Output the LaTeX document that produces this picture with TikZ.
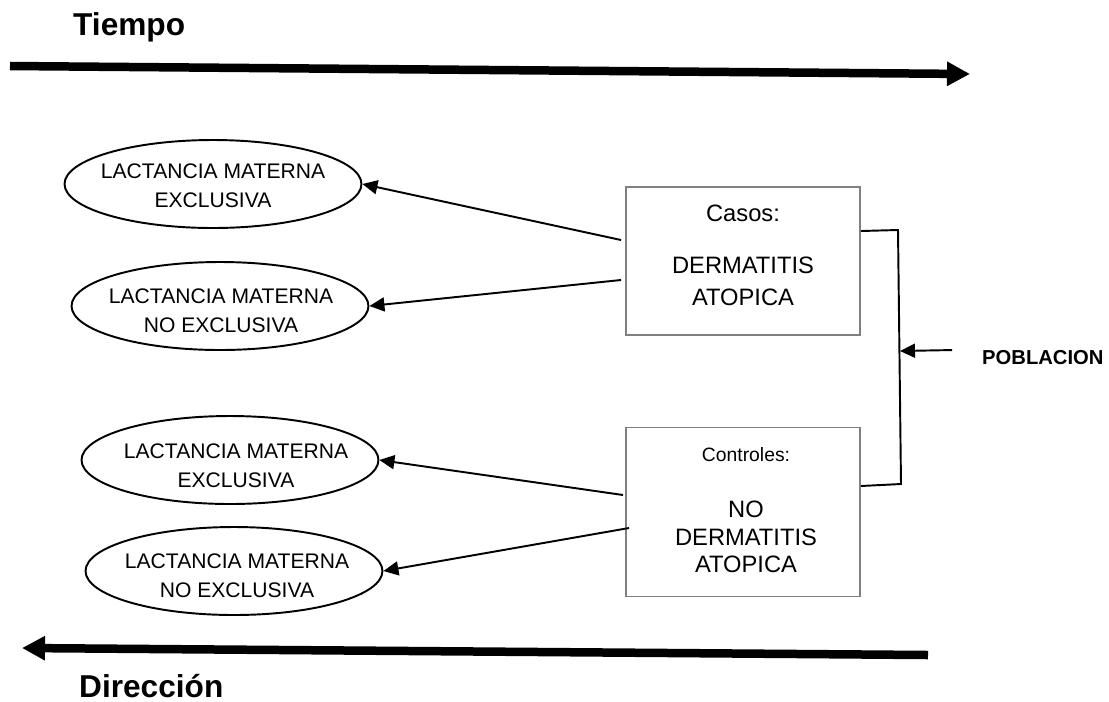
\documentclass[tikz,border=0pt]{standalone}
\usepackage{fontspec}
\setmainfont{Liberation Sans}
\usetikzlibrary{arrows.meta,shapes.geometric}

\begin{document}
\begin{tikzpicture}[x=0.02cm,y=-0.02cm,
  lm node/.style={ellipse,draw,line width=1.1pt,minimum width=5.94cm,minimum height=1.76cm,inner sep=0pt},
  lm text/.style={align=center,font=\fontsize{12}{16.5}\selectfont},
  group node/.style={rectangle,draw=black!50,line width=1.1pt,minimum width=4.68cm,inner sep=0pt},
  group text/.style={align=center,font=\fontsize{13.5}{18.2}\selectfont},
  thin arrow/.style={line width=1.1pt,-{Triangle[length=0.3cm,width=0.28cm]}},
  thick arrow/.style={line width=0.17cm,-{Triangle[length=0.46cm,width=0.46cm]}},
  title text/.style={font=\fontsize{18}{21}\selectfont\bfseries,anchor=base west}]

  \useasboundingbox (0,0) rectangle (1109,701);

  % time direction
  \node[title text] (tiempo) at (67,35) {Tiempo};
  \node[title text] (direccion) at (73,697) {Dirección};
  \coordinate (t0) at (10,66);
  \coordinate (t1) at (970,74);
  \coordinate (d0) at (928,655);
  \coordinate (d1) at (22,648);
  \path[] (t0) [thick arrow] edge node [] {} (t1);
  \path[] (d0) [thick arrow] edge node [] {} (d1);

  % exposures
  \node[lm node] (e1) at (213,184) {};
  \node[lm node] (e2) at (220,306) {};
  \node[lm node] (e3) at (230,460) {};
  \node[lm node] (e4) at (234,571) {};
  \node[lm text] (l1) at (213,186) {LACTANCIA MATERNA\\EXCLUSIVA};
  \node[lm text] (l2) at (221,311) {LACTANCIA MATERNA\\NO EXCLUSIVA};
  \node[lm text] (l3) at (236,466) {LACTANCIA MATERNA\\EXCLUSIVA};
  \node[lm text] (l4) at (237,576) {LACTANCIA MATERNA\\NO EXCLUSIVA};

  % cases and controls
  \node[group node,minimum height=2.96cm] (b1) at (743,261) {};
  \node[group node,minimum height=3.38cm] (b2) at (743,512) {};
  \node[group text] (c1) at (743,255) {Casos:\\[11.4pt]DERMATITIS\\ATOPICA};
  \node[group text,font=\fontsize{13.5}{15.6}\selectfont] (c2) at (746,510)
    {{\fontsize{11}{13}\selectfont Controles:}\\[16.8pt]NO\\DERMATITIS\\ATOPICA};

  \path[] ([xshift=-0.08cm,yshift=0.42cm]b1.west) [thin arrow] edge node [] {} (e1.east);
  \path[] ([xshift=-0.08cm,yshift=-0.38cm]b1.west) [thin arrow] edge node [] {} (e2.east);
  \path[] ([xshift=-0.04cm,yshift=0.34cm]b2.west) [thin arrow] edge node [] {} (e3.east);
  \path[] ([xshift=0.08cm,yshift=-0.32cm]b2.west) [thin arrow] edge node [] {} (e4.east);

  % population
  \node[font=\fontsize{11.5}{14}\selectfont\bfseries,anchor=base west] (pob) at (976,364) {POBLACION};
  \coordinate (br1) at (898,230);
  \coordinate (br2) at (901,484);
  \coordinate (pobtip) at (900,351);
  \draw[line width=1.1pt] ([yshift=0.6cm]b1.east) -- (br1) -- (br2) -- ([yshift=0.52cm]b2.east);
  \path[] ([xshift=-0.48cm,yshift=0.14cm]pob.west) [thin arrow] edge node [] {} (pobtip);
\end{tikzpicture}
\end{document}
